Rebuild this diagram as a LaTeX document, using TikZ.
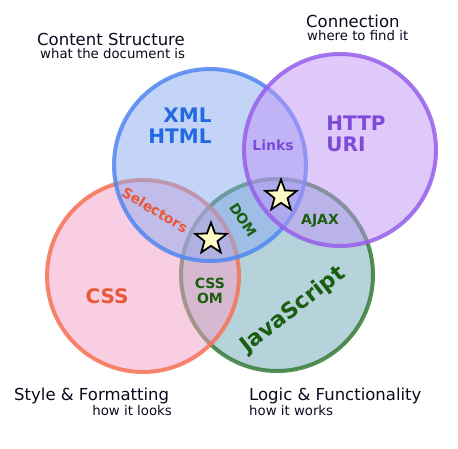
\documentclass[tikz,border=0pt]{standalone}
\usepackage{fontspec}
\setmainfont{DejaVu Sans}
\usetikzlibrary{shapes.geometric}
\definecolor{bluefill}{RGB}{137,171,241}
\definecolor{purplefill}{RGB}{190,148,246}
\definecolor{redfill}{RGB}{247,158,198}
\definecolor{greenfill}{RGB}{110,168,185}
\definecolor{bluestroke}{RGB}{80,135,240}
\definecolor{purplestroke}{RGB}{150,95,235}
\definecolor{redstroke}{RGB}{245,115,85}
\definecolor{greenstroke}{RGB}{55,125,55}
\definecolor{bluetext}{RGB}{35,105,225}
\definecolor{purpletext}{RGB}{125,75,215}
\definecolor{redtext}{RGB}{232,88,55}
\definecolor{greentext}{RGB}{25,95,15}
\definecolor{starfill}{RGB}{255,252,200}
\definecolor{titletext}{RGB}{10,10,30}
\tikzset{
  venn/.style={circle, minimum size=192pt, inner sep=0pt, line width=4pt, fill opacity=0.5, draw opacity=0.85},
  title/.style={inner sep=0pt, font=\fontsize{16.5}{18}\selectfont, text=titletext},
  subtitle/.style={inner sep=0pt, font=\fontsize{13.3}{15}\selectfont, text=titletext},
  biglabel/.style={inner sep=0pt, font=\fontsize{20}{21}\selectfont\bfseries, align=center},
  smalllabel/.style={inner sep=0pt, font=\fontsize{14}{14.5}\selectfont\bfseries, align=center},
  starmark/.style={star, star points=5, star point ratio=2.4, minimum size=33pt, inner sep=0pt, fill=starfill, draw=black, line width=1.8pt}
}
\begin{document}
\begin{tikzpicture}[x=1pt,y=-1pt]
\useasboundingbox (0,0) rectangle (458,448);
\fill[white] (0,0) rectangle (458,448);
% circles
\node[venn, fill=greenfill, draw=greenstroke] (js) at (277,275) {};
\node[venn, fill=redfill, draw=redstroke] (css) at (143,276) {};
\node[venn, fill=bluefill, draw=bluestroke] (content) at (210,165) {};
\node[venn, fill=purplefill, draw=purplestroke] (conn) at (340,150) {};
% titles
\node[title, anchor=base west] (t1) at (37,45) {Content Structure};
\node[subtitle, anchor=base west] (s1) at (40,58) {what the document is};
\node[title, anchor=base west] (t2) at (306,27) {Connection};
\node[subtitle, anchor=base west] (s2) at (307,40) {where to find it};
\node[title, anchor=base west] (t3) at (14,400) {Style \& Formatting};
\node[subtitle, anchor=base east] (s3) at (172,415) {how it looks};
\node[title, anchor=base west] (t4) at (249,400) {Logic \& Functionality};
\node[subtitle, anchor=base west] (s4) at (249,415) {how it works};
% labels
\node[biglabel, text=bluetext, align=right] (xml) at (180,126) {XML\\HTML};
\node[biglabel, text=purpletext, align=left] (http) at (356,134) {HTTP\\URI};
\node[smalllabel, text=purpletext] (links) at (273,145) {Links};
\node[smalllabel, text=redtext, rotate=-31] (sel) at (155,210) {Selectors};
\node[smalllabel, text=greentext, rotate=-57] (dom) at (243,220) {DOM};
\node[smalllabel, text=greentext] (ajax) at (320,221) {AJAX};
\node[smalllabel, text=greentext, align=center] (cssom) at (210,291) {CSS\\OM};
\node[biglabel, text=redtext] (csslbl) at (107,296) {CSS};
\node[biglabel, text=greentext, rotate=38, font=\fontsize{22}{23}\selectfont\bfseries] (jslbl) at (293,310) {JavaScript};
% stars
\node[starmark] (star1) at (281,196) {};
\node[starmark] (star2) at (211,239) {};
\end{tikzpicture}
\end{document}
